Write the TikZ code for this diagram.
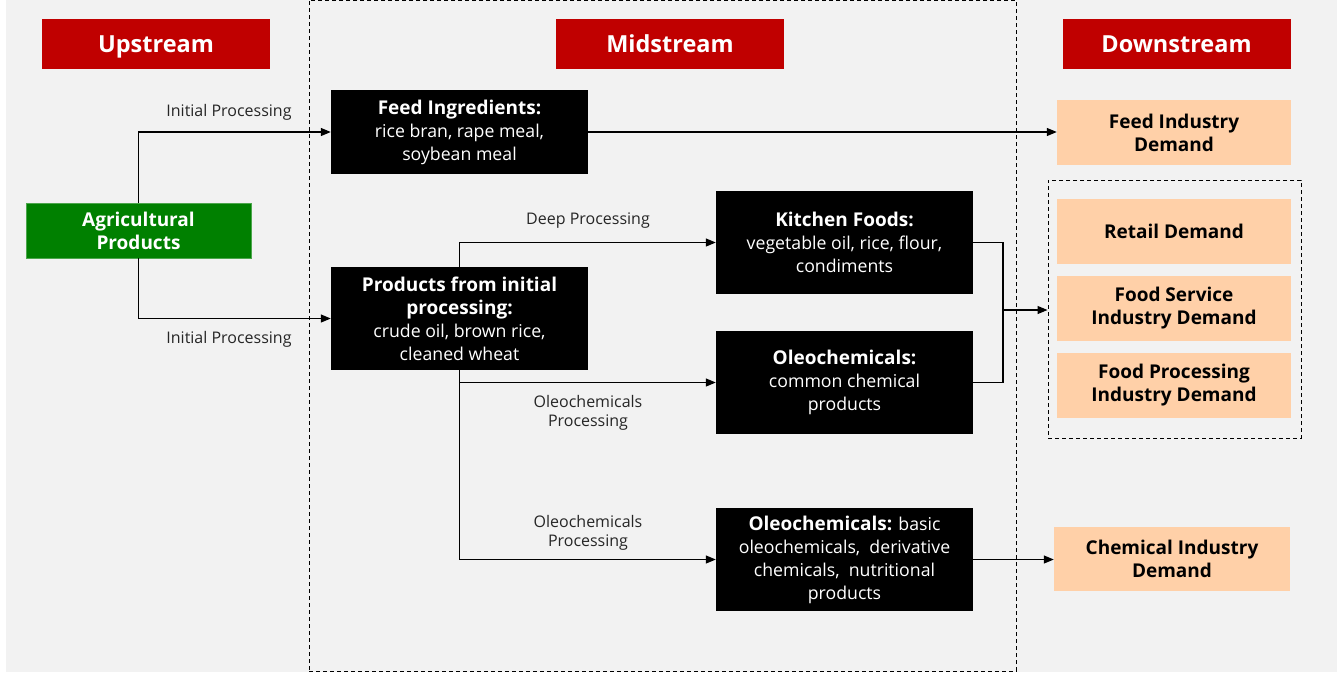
\documentclass[tikz,border=0pt]{standalone}
\usepackage{fontspec}
\setmainfont{Open Sans}
\usetikzlibrary{arrows.meta}
\definecolor{bggray}{HTML}{F2F2F2}
\definecolor{hdrred}{HTML}{C00000}
\definecolor{agrgreen}{HTML}{008000}
\definecolor{peach}{HTML}{FFD0A8}
\definecolor{lbltext}{HTML}{262626}
\newcommand{\bh}[1]{{\bfseries\fontsize{19}{23}\selectfont #1}}
\begin{document}
\begin{tikzpicture}[x=1pt,y=-1pt,
  hdr/.style={fill=hdrred,text=white,font=\bfseries\fontsize{23.5}{26}\selectfont,minimum width=228,minimum height=50,inner sep=0,text height=17pt,text depth=1pt},
  blk/.style={fill=black,text=white,font=\fontsize{17.7}{23}\selectfont,align=center,minimum width=257,minimum height=103,inner sep=0},
  dem/.style={fill=peach,font=\bfseries\fontsize{19}{23}\selectfont,align=center,minimum width=234,minimum height=65,inner sep=0},
  lbl/.style={font=\fontsize{16}{19}\selectfont,align=center,text=lbltext},
  grpbox/.style={draw=black,dash pattern=on 4pt off 3pt,line width=1pt,inner sep=0},
  arr/.style={draw=black,line width=1.2pt,-{Triangle[length=10pt,width=8pt]}},
  ln/.style={draw=black,line width=1.2pt}]
\useasboundingbox (0,0) rectangle (1344,673);
\fill[bggray] (6,0) rectangle (1337,672);
% group boxes
\node[grpbox,minimum width=707,minimum height=671] (midgrp) at (662.5,335.5) {};
\node[grpbox,minimum width=253,minimum height=258] (grp) at (1174.5,309) {};
% headers
\node[hdr] (up) at (156,44) {Upstream};
\node[hdr] (mid) at (670,44) {Midstream};
\node[hdr] (down) at (1176.5,44) {Downstream};
% nodes
\node[fill=agrgreen,draw=agrgreen!70!white,line width=0.8pt,text=white,font=\bfseries\fontsize{19}{23}\selectfont,align=center,minimum width=225,minimum height=55,inner sep=0] (agri) at (138.5,230.5) {Agricultural\\Products};
\node[blk,minimum height=84] (feed) at (459.5,132) {\bh{Feed Ingredients:}\\rice bran, rape meal,\\soybean meal};
\node[blk] (prod) at (459.5,318.5) {\bh{Products from initial}\\\bh{processing:}\\crude oil, brown rice,\\cleaned wheat};
\node[blk] (kit) at (844.5,242.5) {\bh{Kitchen Foods:}\\vegetable oil, rice, flour,\\condiments};
\node[blk] (oleoa) at (844.5,382.5) {\bh{Oleochemicals:}\\common chemical\\products};
\node[blk] (oleob) at (844.5,559.5) {\bh{Oleochemicals:} basic\\oleochemicals,\ \ derivative\\chemicals,\ \ nutritional\\products};
\node[dem] (fid) at (1174,132.5) {Feed Industry\\Demand};
\node[dem] (ret) at (1174,231) {Retail Demand};
\node[dem] (srv) at (1174,308.5) {Food Service\\Industry Demand};
\node[dem] (fpd) at (1174,385.5) {Food Processing\\Industry Demand};
\node[dem,minimum width=236,minimum height=64] (chem) at (1172,559) {Chemical Industry\\Demand};
% labels
\node[lbl] (l1) at (229,112) {Initial Processing};
\node[lbl] (l2) at (229,339) {Initial Processing};
\node[lbl] (l3) at (588,221) {Deep Processing};
\node[lbl] (l4) at (588,412.5) {Oleochemicals\\Processing};
\node[lbl] (l5) at (588,532.5) {Oleochemicals\\Processing};
% connectors
\draw[arr] (agri.north) |- (feed.west);
\draw[arr] (agri.south) |- (prod.west);
\draw[arr] (prod.north) |- (kit.west);
\draw[arr] (prod.south) |- (oleoa.west);
\draw[arr] (prod.south) |- (oleob.west);
\draw[arr] (feed.east) -- (feed.east -| fid.west);
\coordinate (m) at (1003,310);
\draw[ln] (kit.east) -| (m);
\draw[ln] (oleoa.east) -| (m);
\draw[arr] (m) -- (m -| grp.west);
\draw[arr] (oleob.east) -- (oleob.east -| chem.west);
\end{tikzpicture}
\end{document}
